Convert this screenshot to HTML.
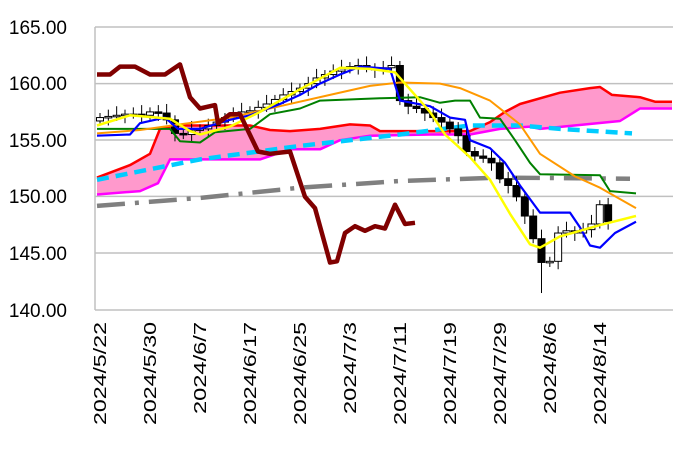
<!DOCTYPE html>
<html><head><meta charset="utf-8"><style>
body{margin:0;background:#fff}
svg{display:block}
text{font-family:"Liberation Sans",sans-serif;fill:#000}
</style></head><body>
<svg id="s" width="686" height="450" xmlns="http://www.w3.org/2000/svg">
<g stroke="#c0c0c0" stroke-width="1.5">
<line x1="95" y1="27" x2="673" y2="27"/><line x1="95" y1="83.6" x2="673" y2="83.6"/>
<line x1="95" y1="140" x2="673" y2="140"/><line x1="95" y1="196.4" x2="673" y2="196.4"/>
<line x1="95" y1="253" x2="673" y2="253"/><line x1="95" y1="310" x2="673" y2="310"/>
<line x1="95" y1="27" x2="95" y2="310"/>
</g>
<g font-size="19" text-anchor="end">
<text x="67" y="34">165.00</text><text x="67" y="90">160.00</text><text x="67" y="147">155.00</text>
<text x="67" y="203">150.00</text><text x="67" y="260">145.00</text><text x="67" y="317">140.00</text>
</g>
<g id="xl" font-size="17.5"></g>
<g id="g"></g>
</svg>
<script>
const Y=v=>310-(v-140)*11.32;
const g=document.getElementById('g');
const NS="http://www.w3.org/2000/svg";
function el(t,a){const e=document.createElementNS(NS,t);for(const k in a)e.setAttribute(k,a[k]);return e;}
function pts(a){let s=[];for(let i=0;i<a.length;i+=2)s.push(a[i]+','+Y(a[i+1]).toFixed(1));return s;}
function line(a,c,w,d){const e=el('polyline',{points:pts(a).join(' '),fill:'none',stroke:c,'stroke-width':w,'stroke-linejoin':'round'});if(d)e.setAttribute('stroke-dasharray',d);g.appendChild(e);}
const labels=["2024/5/22","2024/5/30","2024/6/7","2024/6/17","2024/6/25","2024/7/3","2024/7/11","2024/7/19","2024/7/29","2024/8/6","2024/8/14"];
const xl=document.getElementById('xl');
labels.forEach((t,k)=>{const x=100+50*k+6;const L=103*t.length/9;const e=el('text',{x:0,y:0,'text-anchor':'end',textLength:L.toFixed(0),lengthAdjust:'spacingAndGlyphs',transform:`translate(${x},322) rotate(-90)`});e.textContent=t;xl.appendChild(e);});
const red=[97,151.7,130,152.8,150,153.8,160,156,175,156.3,250,156.3,270,155.9,290,155.8,320,156,350,156.4,370,156.3,380,155.8,470,155.8,490,156.6,505,157.5,520,158.2,560,159.2,590,159.6,600,159.7,612,159,640,158.8,655,158.4,672,158.4];
const mag=[97,150.2,140,150.5,158,151.2,170,153.3,240,153.3,260,153.3,290,154.2,320,154.2,340,155,370,155.4,430,155.5,470,155.5,500,156,530,156.2,540,156,620,156.7,640,157.8,672,157.8];
let mp=pts(mag);mp.reverse();
g.appendChild(el('polygon',{points:pts(red).concat(mp).join(' '),fill:'#ff99cc',stroke:'none'}));
line(mag,'#ff00ff',2.5);line(red,'#ff0000',2.5);
line([97,149.2,200,149.9,300,150.8,400,151.4,500,151.7,630,151.6],'#808080',4.5,'28,10,4,10');
line([97,151.5,200,153.3,300,154.5,400,155.5,470,156.3,520,156.3,560,156,632,155.6],'#00ccff',4.5,'12,7');
const C=[157,157.1,157.2,157.3,157.3,157.2,157.5,157.4,156.8,155.6,155.5,155.9,156,156.3,156.6,157,157.3,157.5,157.6,157.9,158.2,158.6,159,159.3,159.6,160,160.5,160.8,161.1,161.3,161.5,161.6,161.4,161.2,161.4,161.6,158.5,158,157.8,157.4,157,156.6,156,155.4,154,153.6,153.4,153,151.6,151,150,148.3,146.3,144.2,144.3,146.8,147,146.8,147.1,147.6,149.3,147.8];
let prev=156.7;
C.forEach((c,i)=>{const x=100+8.33*i,o=prev;const hi=Math.max(o,c)+0.4+(i%3)*0.2,lo=Math.min(o,c)-0.4-(i%2)*0.3-(i==53?2:0);
g.appendChild(el('line',{x1:x,x2:x,y1:Y(hi),y2:Y(lo),stroke:'#000','stroke-width':1}));
const t=Math.min(Y(o),Y(c)),h=Math.max(1.5,Math.abs(Y(o)-Y(c)));
g.appendChild(el('rect',{x:x-3.5,y:t,width:7,height:h,fill:c<o?'#000':'#fff',stroke:'#000','stroke-width':1}));prev=c;});
line([97,156,170,156,180,154.9,200,154.8,215,155.7,250,156,270,157.3,300,157.8,320,158.5,380,158.7,420,158.8,440,158.3,455,158.5,470,158.5,480,157,500,156.9,515,155,530,153,540,152,600,151.9,610,150.5,636,150.3],'#008000',2);
line([97,155.6,140,155.9,180,156.4,230,157,280,158,330,159,370,159.8,400,160.1,440,160,460,159.6,490,158.5,520,156.4,540,153.8,575,151.8,600,150.8,636,149],'#ff9900',2);
line([97,155.4,130,155.5,140,156.5,165,157,178,156,200,156,230,156.8,250,157.2,280,158.2,300,159,320,160,340,160.8,360,161.5,390,161.3,400,158.5,430,158,450,157,465,156.8,470,155,490,154.3,505,153,520,151,540,148.6,570,148.6,580,147.3,590,145.7,600,145.5,615,146.8,636,147.8],'#0000ff',2.2);
line([97,156.3,130,157.2,170,156.9,190,155.8,200,155.5,230,156.2,260,157.5,300,159.5,340,161.4,370,161.3,395,161,410,159.5,430,157.5,445,155.5,470,153.5,490,151.5,510,148.5,530,145.8,540,145.5,560,146.5,580,147,600,147.5,636,148.3],'#ffff00',2.5);
line([97,160.8,110,160.8,120,161.5,135,161.5,150,160.8,165,160.8,180,161.7,190,158.8,200,157.8,215,158.1,218,156.5,230,157.3,240,157.3,258,154,270,153.8,290,154,305,150,315,149,330,144.2,337,144.3,345,146.8,355,147.4,365,147,375,147.4,385,147.2,395,149.3,405,147.6,415,147.7],'#800000',4.5);
</script>
</body></html>
